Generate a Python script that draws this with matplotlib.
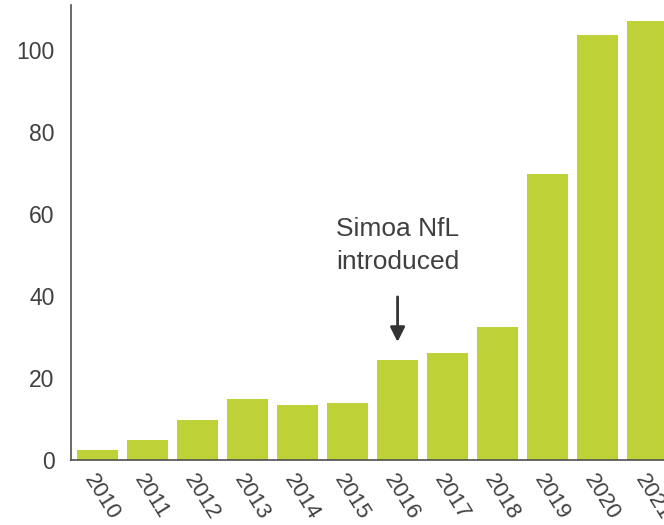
import matplotlib.pyplot as plt

plt.rcParams['font.family'] = ['Liberation Sans', 'DejaVu Sans']

years = ['2010', '2011', '2012', '2013', '2014', '2015',
         '2016', '2017', '2018', '2019', '2020', '2021']
counts = [2.5, 4.8, 9.8, 14.9, 13.5, 14.0, 24.3, 26.0, 32.5, 69.7, 103.7, 107.1]

green = '#bed136'
grey = '#404040'

fig = plt.figure(figsize=(6.64, 5.25), dpi=100)
ax = fig.add_axes([0.107, 0.124, 0.893, 0.866])

x = list(range(len(years)))
ax.bar(x, counts, width=0.82, color=green)

ax.set_xlim(-0.52, 11.32)
ax.set_ylim(0, 111)
ax.set_yticks([0, 20, 40, 60, 80, 100])
ax.set_xticks(x)
ax.set_xticklabels(years, rotation=-58, ha='left', va='top',
                   rotation_mode='anchor')

for s in ['top', 'right']:
    ax.spines[s].set_visible(False)
for s in ['left', 'bottom']:
    ax.spines[s].set_color('#505050')
    ax.spines[s].set_linewidth(1.2)

ax.tick_params(axis='both', length=0, labelsize=16.5, colors=grey)
ax.tick_params(axis='y', pad=12)
ax.tick_params(axis='x', pad=8, labelsize=16)

ax.text(6, 45.5, 'Simoa NfL\nintroduced', ha='center', va='bottom',
        fontsize=19, color=grey, linespacing=1.45)
ax.annotate('', xy=(6, 28.8), xytext=(6, 39.8),
            arrowprops=dict(arrowstyle='-|>', color='#333333', lw=2,
                            mutation_scale=22, shrinkA=0, shrinkB=0))

fig.savefig('out.png', dpi=100)
